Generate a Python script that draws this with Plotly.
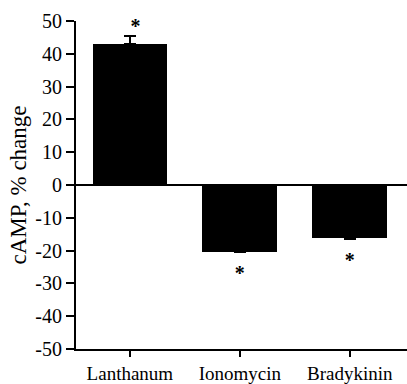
import plotly.graph_objects as go

categories = ["Lanthanum", "Ionomycin", "Bradykinin"]
values = [43.0, -20.3, -16.3]
err_plus = [2.5, 0, 0]
star_x = [0.05, 0, 0]
star_y = [48.0, -27.5, -23.5]
ytick_vals = [-50, -40, -30, -20, -10, 0, 10, 20, 30, 40, 50]
ytick_text = [str(v) for v in ytick_vals]

font_family = "Liberation Serif, Times New Roman, serif"

fig = go.Figure()
fig.add_trace(go.Bar(
    x=[0, 1, 2], y=values, width=0.68,
    marker=dict(color="black", line=dict(width=0)),
    error_y=dict(type="data", array=err_plus, arrayminus=[0, 0, 0], symmetric=False,
                 color="black", thickness=2.5, width=6, visible=True),
    showlegend=False,
))
fig.add_trace(go.Scatter(
    x=[i + dx for i, dx in enumerate(star_x)], y=star_y, mode="text", text=["<b>*</b>"] * 3,
    textfont=dict(family=font_family, size=20, color="black"),
    textposition="middle center", showlegend=False, cliponaxis=False,
))

fig.update_layout(
    width=407, height=384,
    margin=dict(l=76, r=0, t=21, b=32),
    plot_bgcolor="white", paper_bgcolor="white",
    font=dict(family=font_family, color="black", size=19),
    bargap=0,
)
fig.update_xaxes(
    range=[-0.49, 2.52], tickvals=[0, 1, 2], ticktext=categories,
    showline=True, linecolor="black", linewidth=2, mirror=False,
    ticks="outside", ticklen=6, tickwidth=2, tickcolor="black",
    showgrid=False, zeroline=False, tickfont=dict(size=19),
)
fig.update_yaxes(
    range=[-50, 50], tickvals=ytick_vals, ticktext=ytick_text,
    showline=True, linecolor="black", linewidth=2,
    ticks="outside", ticklen=8, tickwidth=2, tickcolor="black",
    showgrid=False, zeroline=True, zerolinecolor="black", zerolinewidth=2,
    title=dict(text="cAMP, % change", font=dict(size=23), standoff=2),
    tickfont=dict(size=20),
)
fig.write_html("out.html")
